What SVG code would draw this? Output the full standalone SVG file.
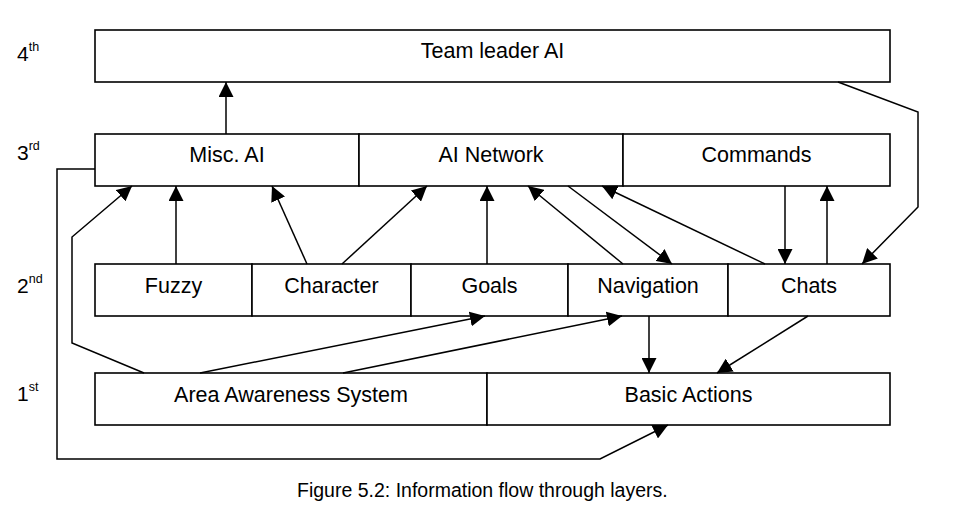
<svg xmlns="http://www.w3.org/2000/svg" width="956" height="523" viewBox="0 0 956 523">
<style>
.box{fill:#fff;stroke:#000;stroke-width:1.6}
.t{font-family:"Liberation Sans",Arial,sans-serif;font-size:21.5px;fill:#000;text-anchor:middle}
.lv{font-family:"Liberation Sans",Arial,sans-serif;font-size:21px;fill:#000}
.sup{font-size:12.5px}
.c{fill:none;stroke:#000;stroke-width:1.5}
.cap{font-family:"Liberation Sans",Arial,sans-serif;font-size:19.5px;fill:#000}
</style>
<defs>
<marker id="ah" markerUnits="userSpaceOnUse" markerWidth="15" markerHeight="15" refX="15" refY="7.5" orient="auto">
<path d="M0,0 L15,7.5 L0,15 z" fill="#000"/>
</marker>
</defs>
<rect width="956" height="523" fill="#fff"/>
<g id="levels">
<text class="lv" x="17" y="61">4<tspan class="sup" dy="-10">th</tspan></text>
<text class="lv" x="17" y="160">3<tspan class="sup" dy="-10">rd</tspan></text>
<text class="lv" x="17" y="293">2<tspan class="sup" dy="-10">nd</tspan></text>
<text class="lv" x="17" y="401">1<tspan class="sup" dy="-10">st</tspan></text>
</g>
<g id="team-leader"><rect class="box" x="95" y="30" width="795" height="52"/><text class="t" x="492.5" y="57.5">Team leader AI</text></g>
<g id="misc-ai"><rect class="box" x="95" y="134" width="264" height="52"/><text class="t" x="227" y="162">Misc. AI</text></g>
<g id="ai-network"><rect class="box" x="359" y="134" width="264" height="52"/><text class="t" x="491" y="162">AI Network</text></g>
<g id="commands"><rect class="box" x="623" y="134" width="267" height="52"/><text class="t" x="756.5" y="162">Commands</text></g>
<g id="fuzzy"><rect class="box" x="95" y="264" width="157" height="52"/><text class="t" x="173.5" y="292.5">Fuzzy</text></g>
<g id="character"><rect class="box" x="252" y="264" width="159" height="52"/><text class="t" x="331.5" y="292.5">Character</text></g>
<g id="goals"><rect class="box" x="411" y="264" width="157" height="52"/><text class="t" x="489.5" y="292.5">Goals</text></g>
<g id="navigation"><rect class="box" x="568" y="264" width="160" height="52"/><text class="t" x="648" y="292.5">Navigation</text></g>
<g id="chats"><rect class="box" x="728" y="264" width="162" height="52"/><text class="t" x="809" y="292.5">Chats</text></g>
<g id="area-awareness"><rect class="box" x="95" y="373" width="392" height="52"/><text class="t" x="291" y="401.5">Area Awareness System</text></g>
<g id="basic-actions"><rect class="box" x="487" y="373" width="403" height="52"/><text class="t" x="688.5" y="401.5">Basic Actions</text></g>
<g id="connectors">
<path class="c" marker-end="url(#ah)" d="M226,134 L226,82"/>
<path class="c" marker-end="url(#ah)" d="M176,264 L176,186"/>
<path class="c" marker-end="url(#ah)" d="M307,264 L272,186"/>
<path class="c" marker-end="url(#ah)" d="M342,264 L427,186"/>
<path class="c" marker-end="url(#ah)" d="M487,264 L487,186"/>
<path class="c" marker-end="url(#ah)" d="M623,264 L528,186"/>
<path class="c" marker-end="url(#ah)" d="M568,186 L672,264"/>
<path class="c" marker-end="url(#ah)" d="M765,264 L602,186"/>
<path class="c" marker-end="url(#ah)" d="M785,186 L785,264"/>
<path class="c" marker-end="url(#ah)" d="M827,264 L827,186"/>
<path class="c" marker-end="url(#ah)" d="M838,82 L918,112 L918,207 L862,264"/>
<path class="c" marker-end="url(#ah)" d="M144,373 L72,343 L72,237 L132,186"/>
<path class="c" marker-end="url(#ah)" d="M95,169 L57,169 L57,459 L600,459 L668,425"/>
<path class="c" marker-end="url(#ah)" d="M200,373 L485,316"/>
<path class="c" marker-end="url(#ah)" d="M343,373 L622,316"/>
<path class="c" marker-end="url(#ah)" d="M649,316 L649,373"/>
<path class="c" marker-end="url(#ah)" d="M808,316 L717,373"/>
</g>
<text class="cap" x="297" y="497">Figure 5.2: Information flow through layers.</text>
</svg>
